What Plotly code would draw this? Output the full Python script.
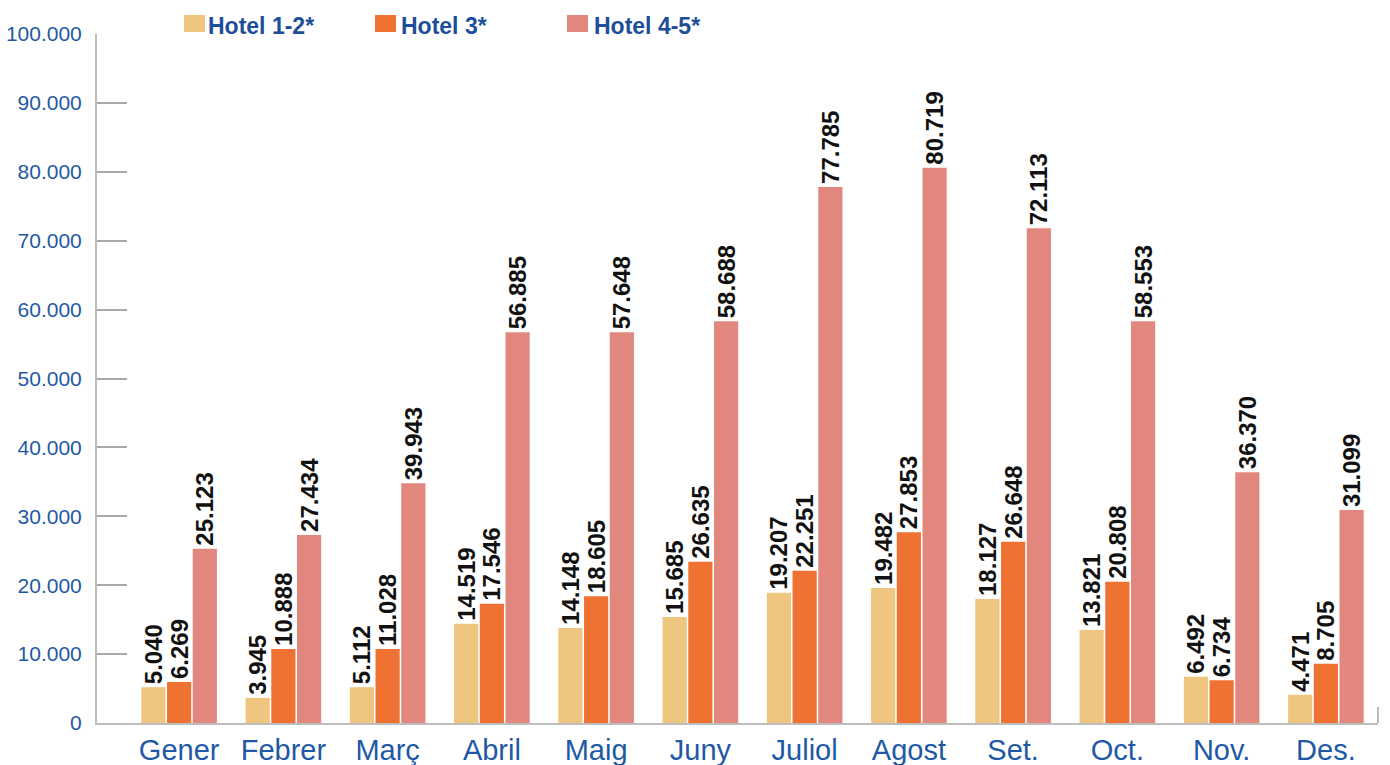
import plotly.graph_objects as go

months = ["Gener", "Febrer", "Març", "Abril", "Maig", "Juny", "Juliol", "Agost", "Set.", "Oct.", "Nov.", "Des."]
series_names = ["Hotel 1-2*", "Hotel 3*", "Hotel 4-5*"]
series_colors = ["#EFC680", "#F07233", "#E2877E"]

# bar heights as drawn in the picture
hotel_12 = [5200, 3650, 5200, 14400, 13800, 15400, 18900, 19600, 18000, 13500, 6700, 4100]
hotel_3 = [5950, 10750, 10750, 17300, 18400, 23400, 22100, 27700, 26300, 20500, 6200, 8600]
hotel_45 = [25300, 27300, 34800, 56700, 56700, 58300, 77800, 80600, 71800, 58300, 36400, 30900]

# data labels as printed
labels_12 = ["5.040", "3.945", "5.112", "14.519", "14.148", "15.685", "19.207", "19.482", "18.127", "13.821", "6.492", "4.471"]
labels_3 = ["6.269", "10.888", "11.028", "17.546", "18.605", "26.635", "22.251", "27.853", "26.648", "20.808", "6.734", "8.705"]
labels_45 = ["25.123", "27.434", "39.943", "56.885", "57.648", "58.688", "77.785", "80.719", "72.113", "58.553", "36.370", "31.099"]

y_ticks = [0, 10000, 20000, 30000, 40000, 50000, 60000, 70000, 80000, 90000, 100000]

values = [hotel_12, hotel_3, hotel_45]
labels = [labels_12, labels_3, labels_45]

W, H = 1390, 765
ML, MR, MT, MB = 97, 12, 34, 42
PW = W - ML - MR
PH = H - MT - MB

fig = go.Figure()
x_idx = list(range(len(months)))
for name, col, vals, labs in zip(series_names, series_colors, values, labels):
    fig.add_trace(go.Bar(
        x=x_idx, y=vals, name=name,
        marker=dict(color=col, line=dict(width=0)),
        text=labs, textposition="outside", textangle=-90,
        textfont=dict(family="Liberation Sans, Arial, sans-serif", size=24, color="#111111"),
        texttemplate="<b>%{text}</b>",
        constraintext="none", cliponaxis=False,
        showlegend=False,
    ))

# x range extends left so the y axis line sits 30px left of the first category band
unit_px = (PW - 30) / len(months)
x_left = -0.5 - 30 / unit_px

fig.update_layout(
    width=W, height=H,
    margin=dict(l=ML, r=MR, t=MT, b=MB),
    paper_bgcolor="white", plot_bgcolor="white",
    barmode="group", bargap=0.26, bargroupgap=0.06,
    separators=",.",
    showlegend=False,
    font=dict(family="Liberation Sans, Arial, sans-serif"),
)

fig.update_xaxes(
    range=[x_left, len(months) - 0.5],
    tickmode="array", tickvals=x_idx, ticktext=months,
    tickfont=dict(family="Liberation Sans, Arial, sans-serif", size=29, color="#1F59A6"),
    showline=True, linecolor="#BDBDBD", linewidth=2,
    ticks="", showgrid=False, zeroline=False, automargin=False,
    fixedrange=True,
)
fig.update_yaxes(
    range=[0, 100000],
    tickmode="array", tickvals=y_ticks, tickformat=",.0f",
    tickfont=dict(family="Liberation Sans Narrow, Arial Narrow, Liberation Sans, sans-serif", size=21, color="#1F59A6"),
    showline=True, linecolor="#BDBDBD", linewidth=2,
    ticks="inside", ticklen=30, tickcolor="#A8A8A8", tickwidth=1.5,
    ticklabelstandoff=9,
    showgrid=False, zeroline=False, automargin=False,
)

# small closing tick at the right end of the x axis
fig.add_shape(type="line", xref="paper", yref="paper", x0=1, x1=1, y0=0, y1=16 / PH,
              line=dict(color="#BDBDBD", width=2))

# custom legend (swatch + bold label)
legend_swatch_px = [184, 375, 567]
legend_text_px = [206, 399, 592]
for name, col, sx, tx in zip(series_names, series_colors, legend_swatch_px, legend_text_px):
    fig.add_shape(type="rect", xref="paper", yref="paper",
                  x0=(sx - ML) / PW, x1=(sx + 21 - ML) / PW,
                  y0=(H - MB - 32) / PH, y1=(H - MB - 15) / PH,
                  line=dict(width=0), fillcolor=col)
    fig.add_annotation(xref="paper", yref="paper", x=(tx - ML) / PW, y=(H - MB - 26) / PH,
                       xanchor="left", yanchor="middle", showarrow=False,
                       text="<b>" + name + "</b>",
                       font=dict(family="Liberation Sans, Arial, sans-serif", size=23, color="#1D4E9A"))

fig.write_html("out.html", config={"displayModeBar": False},
               post_script="document.body.style.margin='0px';")
